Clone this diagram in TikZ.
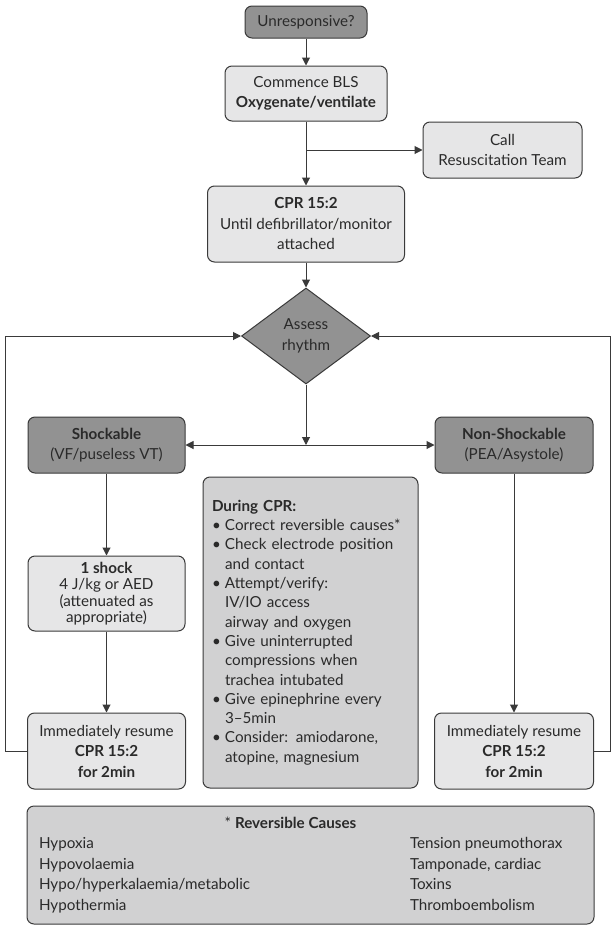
\documentclass[tikz,border=0pt]{standalone}
\usepackage{fontspec}
\setmainfont{Lato}
\usetikzlibrary{shapes.geometric,arrows.meta}
\definecolor{boxdark}{HTML}{929292}
\definecolor{boxlight}{HTML}{E6E6E7}
\definecolor{boxmid}{HTML}{D1D1D2}
\definecolor{linegrey}{HTML}{3A3A3A}
\definecolor{inkgrey}{HTML}{2A2A2A}
\newcommand{\bul}{\makebox[13pt][l]{\textbullet}}
\newcommand{\cont}{\hspace*{13pt}}

\begin{document}
\begin{tikzpicture}[x=1pt, y=1pt, >={Triangle[length=8pt,width=8pt]},
		every node/.style = {font=\fontsize{15.2}{20.5}\selectfont, text=inkgrey},
		box/.style = {draw=linegrey, line width=1pt, rounded corners=7pt, align=center, inner sep=0pt},
		lightbox/.style = {box, fill=boxlight},
		darkbox/.style = {box, fill=boxdark},
		notebox/.style = {box, fill=boxmid},
		link/.style = {draw=linegrey, line width=1pt}]
				\useasboundingbox (0,0) rectangle (612,-926);
				\node[darkbox, minimum width=122pt, minimum height=32pt] (unresp) at (306,-22) {Unresponsive?};
				\node[lightbox, minimum width=162pt, minimum height=55pt] (bls) at (306,-93.5) {Commence BLS\\\textbf{Oxygenate/ventilate}};
				\node[lightbox, minimum width=159pt, minimum height=56pt] (call) at (502.5,-150) {Call\\Resuscitation Team};
				\node[lightbox, minimum width=197pt, minimum height=76pt] (cpr) at (306,-224) {\textbf{CPR 15:2}\\Until defibrillator/monitor\\attached};
				\node[diamond, draw=linegrey, line width=1pt, fill=boxdark, minimum width=129pt, minimum height=96pt, inner sep=0pt, align=center] (assess) at (306,-336) {Assess\\rhythm};
				\node[darkbox, minimum width=157pt, minimum height=56pt] (shock) at (106.5,-445) {\textbf{Shockable}\\(VF/puseless VT)};
				\node[darkbox, minimum width=158pt, minimum height=56pt] (nonshock) at (514,-445) {\textbf{Non-Shockable}\\(PEA/Asystole)};
				\node[lightbox, minimum width=157pt, minimum height=75pt, font=\fontsize{15.2}{16.3}\selectfont] (oneshock) at (106.5,-593.5) {\textbf{1 shock}\\4 J/kg or AED\\(attenuated as\\appropriate)};
				\node[lightbox, minimum width=158pt, minimum height=76pt] (resumeL) at (106.5,-751) {Immediately resume\\\textbf{CPR 15:2}\\\textbf{for 2min}};
				\node[lightbox, minimum width=159pt, minimum height=76pt] (resumeR) at (514,-751) {Immediately resume\\\textbf{CPR 15:2}\\\textbf{for 2min}};
				\node[notebox, minimum width=215pt, minimum height=311pt, text width=197pt, align=left, font=\fontsize{15.2}{19.3}\selectfont] (during) at (310.5,-632.5) {\textbf{During CPR:}\\
					\bul Correct reversible causes*\\
					\bul Check electrode position\\ \cont and contact\\
					\bul Attempt/verify:\\ \cont IV/IO access\\ \cont airway and oxygen\\
					\bul Give uninterrupted\\ \cont compressions when\\ \cont trachea intubated\\
					\bul Give epinephrine every\\ \cont 3–5min\\
					\bul Consider: amiodarone,\\ \cont atopine, magnesium};
				\node[notebox, minimum width=567pt, minimum height=118pt] (causes) at (310.5,-865) {\begin{tabular}{@{}p{371pt}@{}p{172pt}@{}}
					\multicolumn{2}{@{}c@{}}{* \textbf{Reversible Causes}\hspace*{40pt}}\\
					Hypoxia & Tension pneumothorax\\
					Hypovolaemia & Tamponade, cardiac\\
					Hypo/hyperkalaemia/metabolic & Toxins\\
					Hypothermia & Thromboembolism
				\end{tabular}};
				% joints of the flow
				\coordinate (callsplit) at (306,-150);
				\coordinate (rhythmsplit) at (306,-445);
				\coordinate (loopL) at (5,-751);
				\coordinate (loopR) at (610,-751);
				\draw[link,->] (unresp) -- (bls);
				\draw[link] (bls) -- (callsplit);
				\draw[link,->] (callsplit) -- (cpr);
				\draw[link,->] (callsplit) -- (call);
				\draw[link,->] (cpr) -- (assess);
				\draw[link,->] (assess) -- (rhythmsplit);
				\draw[link,<->] (shock) -- (nonshock);
				\draw[link,->] (shock) -- (oneshock);
				\draw[link,->] (oneshock) -- (resumeL);
				\draw[link,->] (nonshock) -- (resumeR);
				\draw[link,->] (resumeL) -- (loopL) |- (assess);
				\draw[link,->] (resumeR) -- (loopR) |- (assess);
			\end{tikzpicture}
\end{document}
